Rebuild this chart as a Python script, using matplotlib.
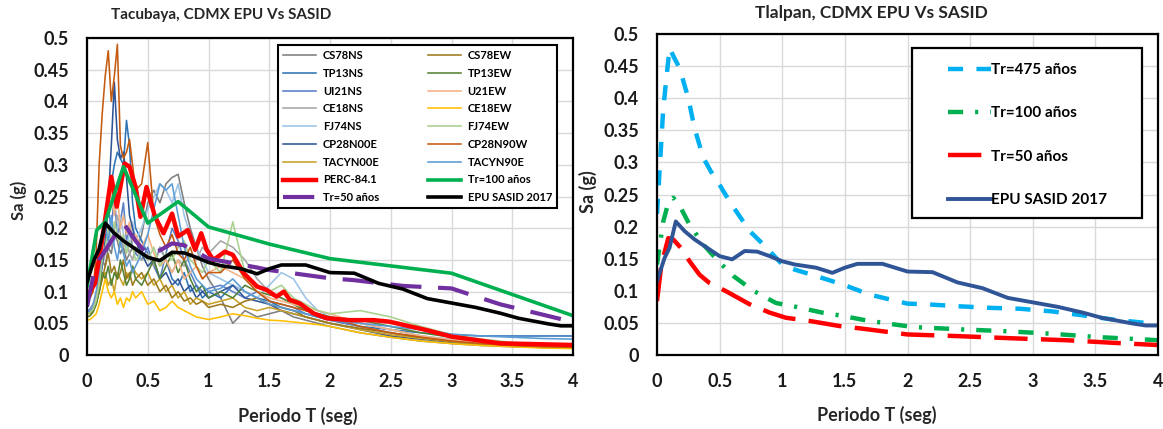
import matplotlib
matplotlib.use("Agg")
import matplotlib.pyplot as plt
from matplotlib.patches import Rectangle

plt.rcParams['font.family'] = ['Lato', 'DejaVu Sans']
plt.rcParams['font.weight'] = 'bold'

# ---- Tacubaya: recorded spectra (periods shared by every record)
T_rec = [0, 0.025, 0.05, 0.075, 0.1, 0.125, 0.15, 0.175, 0.2, 0.225, 0.25, 0.275, 0.3, 0.325, 0.35, 0.375, 0.4,
         0.45, 0.5, 0.55, 0.6, 0.65, 0.7, 0.75, 0.8, 0.85, 0.9, 0.95, 1.0,
         1.1, 1.2, 1.3, 1.4, 1.5, 1.6, 1.7, 1.8, 1.9, 2.0,
         2.25, 2.5, 2.75, 3.0, 3.25, 3.5, 3.75, 4.0]

cs78ns = [0.07, 0.072, 0.08, 0.09, 0.12, 0.15, 0.14, 0.17, 0.16, 0.19, 0.18, 0.16, 0.17, 0.15, 0.16, 0.17, 0.16,
          0.19, 0.24, 0.26, 0.24, 0.27, 0.28, 0.285, 0.24, 0.20, 0.17, 0.14, 0.12,
          0.09, 0.05, 0.07, 0.06, 0.065, 0.07, 0.06, 0.055, 0.05, 0.045,
          0.035, 0.028, 0.022, 0.018, 0.015, 0.013, 0.012, 0.011]
cs78ew = [0.065, 0.066, 0.07, 0.08, 0.10, 0.12, 0.14, 0.16, 0.13, 0.14, 0.12, 0.13, 0.15, 0.12, 0.13, 0.11, 0.12,
          0.13, 0.11, 0.12, 0.10, 0.11, 0.09, 0.10, 0.085, 0.09, 0.08, 0.085, 0.075,
          0.08, 0.075, 0.085, 0.09, 0.08, 0.075, 0.07, 0.06, 0.055, 0.05,
          0.042, 0.035, 0.028, 0.022, 0.018, 0.015, 0.013, 0.012]
tp13ns = [0.065, 0.068, 0.075, 0.09, 0.12, 0.16, 0.22, 0.25, 0.27, 0.30, 0.32, 0.31, 0.30, 0.37, 0.33, 0.24, 0.20,
          0.18, 0.16, 0.14, 0.17, 0.15, 0.12, 0.11, 0.13, 0.10, 0.11, 0.09, 0.10,
          0.09, 0.11, 0.10, 0.09, 0.085, 0.075, 0.07, 0.065, 0.06, 0.055,
          0.045, 0.04, 0.035, 0.032, 0.03, 0.03, 0.03, 0.03]
tp13ew = [0.06, 0.062, 0.068, 0.08, 0.10, 0.13, 0.12, 0.14, 0.11, 0.13, 0.12, 0.15, 0.13, 0.11, 0.12, 0.14, 0.12,
          0.11, 0.13, 0.15, 0.12, 0.14, 0.16, 0.13, 0.15, 0.12, 0.10, 0.11, 0.09,
          0.10, 0.09, 0.11, 0.10, 0.095, 0.09, 0.08, 0.07, 0.065, 0.06,
          0.055, 0.045, 0.035, 0.028, 0.022, 0.018, 0.015, 0.013]
ui21ns = [0.068, 0.07, 0.075, 0.085, 0.11, 0.15, 0.19, 0.23, 0.20, 0.25, 0.19, 0.21, 0.24, 0.18, 0.20, 0.17, 0.16,
          0.15, 0.17, 0.14, 0.12, 0.16, 0.20, 0.18, 0.15, 0.13, 0.11, 0.10, 0.105,
          0.11, 0.10, 0.09, 0.10, 0.085, 0.08, 0.075, 0.065, 0.06, 0.055,
          0.045, 0.035, 0.027, 0.022, 0.018, 0.015, 0.013, 0.012]
u21ew = [0.07, 0.072, 0.078, 0.09, 0.12, 0.16, 0.21, 0.24, 0.26, 0.22, 0.25, 0.20, 0.22, 0.19, 0.21, 0.18, 0.19,
         0.17, 0.19, 0.16, 0.14, 0.15, 0.13, 0.15, 0.12, 0.13, 0.14, 0.12, 0.13,
         0.14, 0.13, 0.12, 0.10, 0.09, 0.085, 0.08, 0.075, 0.07, 0.065,
         0.05, 0.04, 0.03, 0.024, 0.019, 0.016, 0.014, 0.012]
ce18ns = [0.065, 0.067, 0.072, 0.085, 0.11, 0.14, 0.16, 0.19, 0.17, 0.20, 0.22, 0.19, 0.17, 0.18, 0.16, 0.15, 0.17,
          0.15, 0.16, 0.14, 0.17, 0.15, 0.13, 0.15, 0.14, 0.16, 0.15, 0.17, 0.16,
          0.18, 0.17, 0.15, 0.12, 0.10, 0.09, 0.08, 0.07, 0.065, 0.06,
          0.05, 0.04, 0.03, 0.024, 0.019, 0.016, 0.014, 0.012]
ce18ew = [0.055, 0.056, 0.06, 0.065, 0.08, 0.10, 0.12, 0.10, 0.09, 0.10, 0.08, 0.09, 0.075, 0.09, 0.085, 0.10, 0.09,
          0.10, 0.08, 0.085, 0.07, 0.075, 0.085, 0.075, 0.07, 0.065, 0.06, 0.058, 0.056,
          0.06, 0.065, 0.062, 0.058, 0.055, 0.054, 0.052, 0.05, 0.048, 0.045,
          0.035, 0.028, 0.022, 0.018, 0.015, 0.013, 0.011, 0.01]
fj74ns = [0.07, 0.072, 0.08, 0.09, 0.12, 0.16, 0.19, 0.17, 0.21, 0.18, 0.20, 0.22, 0.19, 0.17, 0.19, 0.21, 0.18,
          0.20, 0.23, 0.25, 0.27, 0.26, 0.24, 0.27, 0.22, 0.19, 0.17, 0.15, 0.13,
          0.12, 0.11, 0.10, 0.09, 0.11, 0.13, 0.12, 0.09, 0.07, 0.06,
          0.05, 0.04, 0.03, 0.025, 0.02, 0.017, 0.015, 0.013]
fj74ew = [0.065, 0.067, 0.072, 0.085, 0.11, 0.15, 0.17, 0.20, 0.18, 0.21, 0.19, 0.17, 0.19, 0.16, 0.18, 0.17, 0.15,
          0.16, 0.15, 0.17, 0.14, 0.16, 0.15, 0.17, 0.18, 0.15, 0.14, 0.13, 0.15,
          0.13, 0.21, 0.13, 0.11, 0.10, 0.11, 0.09, 0.08, 0.07, 0.065,
          0.07, 0.06, 0.045, 0.032, 0.025, 0.02, 0.017, 0.015]
cp28n00e = [0.07, 0.072, 0.078, 0.09, 0.11, 0.14, 0.18, 0.24, 0.33, 0.43, 0.34, 0.31, 0.32, 0.28, 0.22, 0.20, 0.18,
            0.16, 0.14, 0.15, 0.12, 0.13, 0.11, 0.12, 0.10, 0.11, 0.09, 0.10, 0.09,
            0.10, 0.11, 0.09, 0.085, 0.08, 0.07, 0.065, 0.06, 0.055, 0.05,
            0.04, 0.03, 0.025, 0.02, 0.017, 0.015, 0.013, 0.012]
cp28n90w = [0.085, 0.09, 0.10, 0.16, 0.30, 0.38, 0.44, 0.48, 0.40, 0.44, 0.49, 0.33, 0.31, 0.32, 0.34, 0.30, 0.26,
            0.27, 0.335, 0.22, 0.19, 0.17, 0.19, 0.16, 0.15, 0.17, 0.14, 0.12, 0.13,
            0.13, 0.15, 0.12, 0.10, 0.085, 0.08, 0.075, 0.07, 0.065, 0.06,
            0.045, 0.035, 0.028, 0.022, 0.018, 0.015, 0.013, 0.012]
tacyn00e = [0.06, 0.062, 0.068, 0.08, 0.10, 0.12, 0.13, 0.11, 0.12, 0.10, 0.13, 0.12, 0.11, 0.13, 0.12, 0.14, 0.13,
            0.12, 0.13, 0.11, 0.12, 0.10, 0.11, 0.09, 0.10, 0.08, 0.09, 0.085, 0.08,
            0.085, 0.09, 0.075, 0.07, 0.075, 0.07, 0.065, 0.06, 0.055, 0.05,
            0.04, 0.032, 0.026, 0.021, 0.017, 0.014, 0.012, 0.011]
tacyn90e = [0.07, 0.072, 0.08, 0.10, 0.13, 0.17, 0.20, 0.18, 0.22, 0.17, 0.15, 0.18, 0.16, 0.14, 0.15, 0.13, 0.14,
            0.16, 0.19, 0.23, 0.27, 0.26, 0.27, 0.22, 0.17, 0.14, 0.12, 0.11, 0.10,
            0.105, 0.12, 0.10, 0.09, 0.08, 0.075, 0.07, 0.065, 0.06, 0.055,
            0.05, 0.045, 0.04, 0.033, 0.03, 0.028, 0.026, 0.025]

# ---- Tacubaya: design / statistic spectra
T_perc = [0, 0.066, 0.12, 0.2, 0.245, 0.31, 0.35, 0.40, 0.44, 0.49, 0.56, 0.63, 0.70, 0.75, 0.83, 0.89, 0.94,
          0.985, 1.04, 1.135, 1.2, 1.29, 1.4, 1.48, 1.56, 1.62, 1.67, 1.75, 1.86, 1.97, 2.16, 2.36, 2.49,
          2.8, 3.0, 3.4, 4.0]
sa_perc = [0.092, 0.113, 0.176, 0.281, 0.234, 0.302, 0.297, 0.265, 0.218, 0.265, 0.218, 0.192, 0.223, 0.187,
           0.197, 0.166, 0.192, 0.166, 0.150, 0.163, 0.158, 0.129, 0.108, 0.1025, 0.092, 0.100, 0.087, 0.0815,
           0.066, 0.058, 0.055, 0.055, 0.0525, 0.039, 0.029, 0.0184, 0.0158]

T_tr100_tac = [0, 0.08, 0.15, 0.3, 0.5, 0.75, 1.0, 1.5, 2.0, 3.0, 4.0]
sa_tr100_tac = [0.108, 0.197, 0.21, 0.297, 0.208, 0.242, 0.202, 0.175, 0.152, 0.129, 0.062]

T_tr50_tac = [0, 0.05, 0.1, 0.2, 0.3, 0.4, 0.5, 0.6, 0.7, 0.8, 1.0, 1.4, 1.5, 2.0, 2.2, 2.6, 3.0, 3.4, 4.0]
sa_tr50_tac = [0.076, 0.123, 0.15, 0.18, 0.208, 0.18, 0.158, 0.165, 0.176, 0.173, 0.152, 0.138, 0.134, 0.121,
               0.118, 0.109, 0.105, 0.08, 0.052]

# EPU SASID 2017 (same curve on both panels)
T_epu = [0, 0.06, 0.1, 0.15, 0.22, 0.3, 0.4, 0.5, 0.6, 0.7, 0.8, 0.9, 1.0, 1.1, 1.27, 1.4, 1.5, 1.6, 1.8, 2.0,
         2.2, 2.4, 2.6, 2.8, 3.0, 3.2, 3.4, 3.55, 3.8, 3.9, 4.0]
sa_epu = [0.115, 0.151, 0.167, 0.208, 0.193, 0.18, 0.167, 0.154, 0.149, 0.162, 0.161, 0.154, 0.146, 0.141, 0.136,
          0.128, 0.136, 0.142, 0.142, 0.130, 0.129, 0.113, 0.104, 0.089, 0.082, 0.075, 0.066, 0.058, 0.049,
          0.046, 0.046]

# ---- Tlalpan
T_475 = [0, 0.05, 0.1, 0.14, 0.18, 0.25, 0.3, 0.37, 0.43, 0.5, 0.58, 0.74, 0.85, 1.0, 1.1, 1.27, 1.48, 1.7, 2.0,
         2.15, 2.4, 2.65, 2.9, 3.15, 3.35, 3.65, 3.9, 4.0]
sa_475 = [0.22, 0.384, 0.478, 0.462, 0.447, 0.40, 0.353, 0.307, 0.286, 0.265, 0.239, 0.193, 0.172, 0.141, 0.133,
          0.123, 0.11, 0.094, 0.08, 0.079, 0.076, 0.0735, 0.072, 0.068, 0.063, 0.055, 0.05, 0.047]

T_100 = [0, 0.05, 0.09, 0.13, 0.19, 0.26, 0.37, 0.49, 0.61, 0.77, 0.95, 1.11, 1.32, 1.48, 1.64, 1.84, 2.05, 2.42,
         2.79, 3.16, 3.51, 3.91, 4.0]
sa_100 = [0.141, 0.208, 0.237, 0.245, 0.229, 0.203, 0.172, 0.146, 0.123, 0.10, 0.081, 0.075, 0.066, 0.061, 0.055,
          0.049, 0.0435, 0.040, 0.037, 0.033, 0.028, 0.024, 0.023]

T_50 = [0, 0.035, 0.09, 0.13, 0.19, 0.26, 0.34, 0.42, 0.55, 0.74, 0.9, 1.03, 1.22, 1.46, 1.64, 1.8, 2.0, 2.39,
        2.84, 3.27, 3.64, 4.0]
sa_50 = [0.084, 0.141, 0.182, 0.18, 0.167, 0.146, 0.125, 0.112, 0.0995, 0.079, 0.066, 0.058, 0.053, 0.045, 0.041,
         0.037, 0.032, 0.0295, 0.026, 0.023, 0.019, 0.0155]

# records in legend order (left column then right column)
records = [
    ('CS78NS', cs78ns, '#7F7F7F'),
    ('TP13NS', tp13ns, '#2E75B6'),
    ('UI21NS', ui21ns, '#5B7FC7'),
    ('CE18NS', ce18ns, '#A5A5A5'),
    ('FJ74NS', fj74ns, '#9DC3E6'),
    ('CP28N00E', cp28n00e, '#2F5597'),
    ('TACYN00E', tacyn00e, '#C9A227'),
    ('CS78EW', cs78ew, '#9C7A1C'),
    ('TP13EW', tp13ew, '#548235'),
    ('U21EW', u21ew, '#F4B183'),
    ('CE18EW', ce18ew, '#FFC000'),
    ('FJ74EW', fj74ew, '#A9D18E'),
    ('CP28N90W', cp28n90w, '#C55A11'),
    ('TACYN90E', tacyn90e, '#5B9BD5'),
]

fig = plt.figure(figsize=(11.63, 4.29), dpi=100)
W, H = 1163, 429


def style_axes(ax, size):
    ax.set_xlim(0, 4)
    ax.set_ylim(0, 0.5)
    ax.set_xticks([0, 0.5, 1, 1.5, 2, 2.5, 3, 3.5, 4])
    ax.set_xticklabels(['0', '0.5', '1', '1.5', '2', '2.5', '3', '3.5', '4'])
    ax.set_yticks([i * 0.05 for i in range(11)])
    ax.set_yticklabels(['0', '0.05', '0.1', '0.15', '0.2', '0.25', '0.3', '0.35', '0.4', '0.45', '0.5'])
    ax.grid(True, color='#D9D9D9', lw=1)
    ax.set_axisbelow(True)
    ax.tick_params(length=0, labelsize=size, pad=13, colors='#1A1A1A')
    for lab in ax.get_xticklabels() + ax.get_yticklabels():
        lab.set_fontweight('bold')
    for s in ax.spines.values():
        s.set_color('black')
        s.set_linewidth(1.6)


# ---------------- left panel: Tacubaya
ax1 = fig.add_axes([87 / W, 1 - 355 / H, 486 / W, 317 / H])
style_axes(ax1, 13)
handles = {}
for name, vals, col in records:
    ln, = ax1.plot(T_rec, vals, color=col, lw=1.15)
    handles[name] = ln

h_perc, = ax1.plot(T_perc, sa_perc, color='#FF0000', lw=3.2, solid_joinstyle='round')
h_100, = ax1.plot(T_tr100_tac, sa_tr100_tac, color='#00B050', lw=2.6)
h_50, = ax1.plot(T_tr50_tac, sa_tr50_tac, color='#7030A0', lw=3.0, dashes=(7.5, 4))
h_epu, = ax1.plot(T_epu, sa_epu, color='black', lw=2.6)

col1 = ['CS78NS', 'TP13NS', 'UI21NS', 'CE18NS', 'FJ74NS', 'CP28N00E', 'TACYN00E']
col2 = ['CS78EW', 'TP13EW', 'U21EW', 'CE18EW', 'FJ74EW', 'CP28N90W', 'TACYN90E']
leg_h = [handles[n] for n in col1] + [h_perc, h_50] + [handles[n] for n in col2] + [h_100, h_epu]
leg_l = col1 + ['PERC-84.1', 'Tr=50 años'] + col2 + ['Tr=100 años', 'EPU SASID 2017']
leg1 = ax1.legend(leg_h, leg_l, ncol=2, loc='upper left', bbox_to_anchor=(0.393, 0.978),
                  fontsize=8, handlelength=3.0, labelspacing=0.61, columnspacing=4.3,
                  handletextpad=0.6, borderpad=0.45, borderaxespad=0, fancybox=False,
                  framealpha=1, edgecolor='black')
leg1.get_frame().set_linewidth(1.5)
for t in leg1.get_texts():
    t.set_fontweight('bold')

fig.text(221 / W, 1 - 15 / H, 'Tacubaya, CDMX EPU Vs SASID', ha='center', va='center',
         fontsize=11, fontweight='bold', color='#262626')
fig.text(298 / W, 1 - 416 / H, 'Periodo T (seg)', ha='center', va='center',
         fontsize=13, fontweight='bold', color='#262626')
fig.text(19 / W, 1 - 200 / H, 'Sa (g)', ha='center', va='center', rotation=90,
         fontsize=12, fontweight='bold', color='#262626')

# ---------------- right panel: Tlalpan
ax2 = fig.add_axes([657 / W, 1 - 355 / H, 501 / W, 321 / H])
style_axes(ax2, 13)
r475, = ax2.plot(T_475, sa_475, color='#00B0F0', lw=3.2, dashes=(3.4, 3.0))
r100, = ax2.plot(T_100, sa_100, color='#00B050', lw=3.2, dashes=(3.4, 2.7, 0.7, 2.7))
r50, = ax2.plot(T_50, sa_50, color='#FF0000', lw=3.2, dashes=(7.5, 3.0))
repu, = ax2.plot(T_epu, sa_epu, color='#2F5597', lw=2.8)

# legend box drawn separately (wide side margins as in the original)
ax2.add_patch(Rectangle((912 / W, 1 - 218 / H), 230 / W, 170 / H, transform=fig.transFigure,
                        facecolor='white', edgecolor='black', lw=1.6, zorder=4, clip_on=False))
leg2 = ax2.legend([r475, r100, r50, repu], ['Tr=475 años', 'Tr=100 años', 'Tr=50 años', 'EPU SASID 2017'],
                  loc='upper left', bbox_to_anchor=(948 / W, 1 - 63 / H),
                  bbox_transform=fig.transFigure, fontsize=11, frameon=False,
                  handlelength=2.8, labelspacing=1.92, handletextpad=0.0, borderpad=0,
                  borderaxespad=0)
leg2.set_zorder(5)
for t in leg2.get_texts():
    t.set_fontweight('bold')

fig.text(871 / W, 1 - 13 / H, 'Tlalpan, CDMX EPU Vs SASID', ha='center', va='center',
         fontsize=12.5, fontweight='bold', color='#262626')
fig.text(877 / W, 1 - 415 / H, 'Periodo T (seg)', ha='center', va='center',
         fontsize=13, fontweight='bold', color='#262626')
fig.text(588 / W, 1 - 192 / H, 'Sa (g)', ha='center', va='center', rotation=90,
         fontsize=13, fontweight='bold', color='#262626')

fig.savefig('out.png', dpi=100)
